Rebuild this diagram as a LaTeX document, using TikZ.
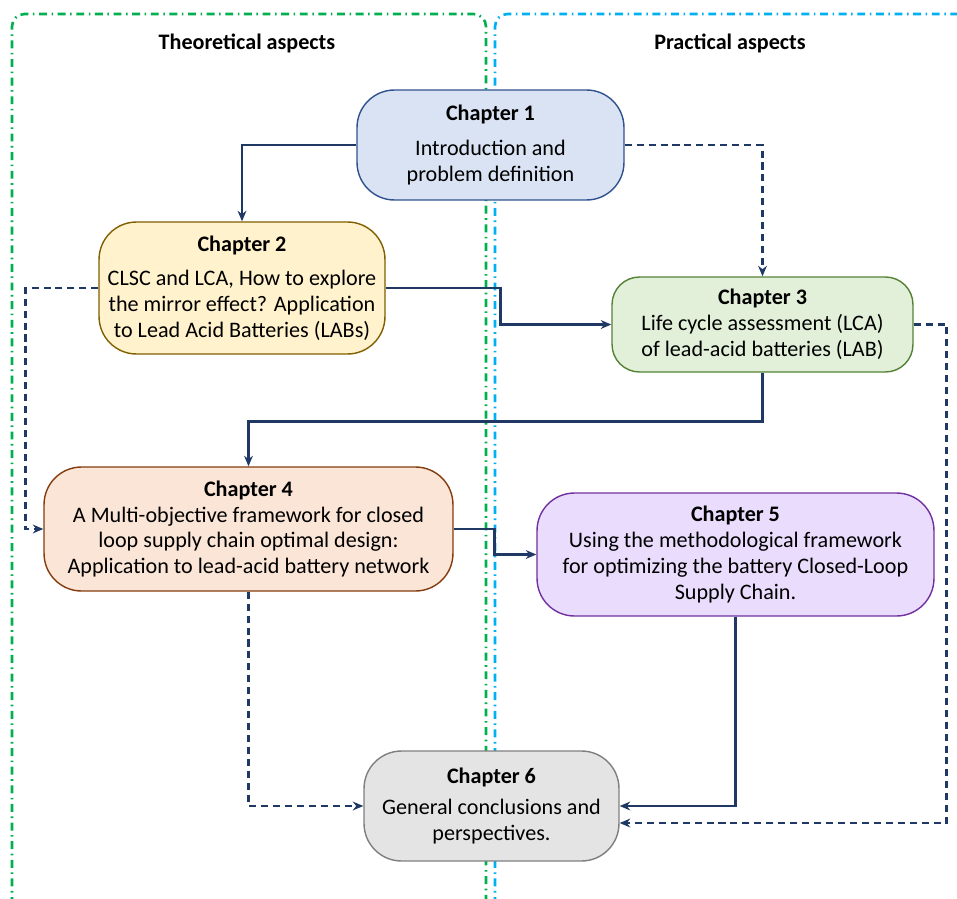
\documentclass[tikz,border=0pt]{standalone}
\usepackage{fontspec}
\setmainfont{Carlito}
\usetikzlibrary{arrows.meta}

\definecolor{navy}{HTML}{1F3864}
\definecolor{frameg}{HTML}{00B050}
\definecolor{frameb}{HTML}{00B0F0}
\definecolor{fillA}{HTML}{DAE3F3}\definecolor{lineA}{HTML}{2F528F}
\definecolor{fillB}{HTML}{FFF2CC}\definecolor{lineB}{HTML}{806000}
\definecolor{fillC}{HTML}{E2F0D9}\definecolor{lineC}{HTML}{548235}
\definecolor{fillD}{HTML}{FBE5D6}\definecolor{lineD}{HTML}{843C0C}
\definecolor{fillE}{HTML}{EADCFC}\definecolor{lineE}{HTML}{7030A0}
\definecolor{fillF}{HTML}{E4E4E4}\definecolor{lineF}{HTML}{7F7F7F}

\begin{document}
\begin{tikzpicture}[x=0.02cm,y=-0.02cm,
        chap/.style={draw,rounded corners=0.75cm,line width=0.8pt,align=center,inner sep=0pt,
            font=\fontsize{12.6}{14.7}\selectfont},
        link/.style={navy,line width=1.4pt,-{Stealth[length=6pt,width=5pt]}},
        dlink/.style={link,dash pattern=on 4pt off 2.8pt},
        frame/.style={line width=1.5pt,rounded corners=0.25cm,
            dash pattern=on 4.5pt off 2.6pt on 0.9pt off 2.6pt}]
        \useasboundingbox (0,0) rectangle (957,899);
        % the two columns
        \draw[frame,frameg] (12,905) -- (12,14) -- (486,14) -- (486,905);
        \draw[frame,frameb] (495,905) -- (495,14) -- (965,14);
        \node[font=\bfseries\fontsize{12.6}{14}\selectfont] (th) at (247,43) {Theoretical aspects};
        \node[font=\bfseries\fontsize{12.6}{14}\selectfont] (pr) at (730,43) {Practical aspects};
        % chapters
        \node[chap,fill=fillA,draw=lineA,minimum width=5.34cm,minimum height=2.2cm] (c1) at (490.5,145)
            {\textbf{Chapter 1}\\[5.5pt] Introduction and\\ problem definition};
        \node[chap,fill=fillB,draw=lineB,minimum width=5.72cm,minimum height=2.64cm] (c2) at (242,288)
            {\textbf{Chapter 2}\\[5pt] CLSC and LCA, How to explore\\ the mirror effect? Application\\ to Lead Acid Batteries (LABs)};
        \node[chap,rounded corners=0.55cm,fill=fillC,draw=lineC,minimum width=6.02cm,minimum height=1.9cm] (c3) at (762.5,324.5)
            {\textbf{Chapter 3}\\ Life cycle assessment (LCA)\\ of lead-acid batteries (LAB)};
        \node[chap,fill=fillD,draw=lineD,minimum width=8.18cm,minimum height=2.48cm] (c4) at (248.5,529)
            {\textbf{Chapter 4}\\ A Multi-objective framework for closed\\ loop supply chain optimal design:\\ Application to lead-acid battery network};
        \node[chap,fill=fillE,draw=lineE,minimum width=7.94cm,minimum height=2.46cm] (c5) at (735.5,554.5)
            {\textbf{Chapter 5}\\ Using the methodological framework\\ for optimizing the battery Closed-Loop\\ Supply Chain.};
        \node[chap,fill=fillF,draw=lineF,minimum width=5.1cm,minimum height=2.2cm] (c6) at (491.5,806)
            {\textbf{Chapter 6}\\[2.5pt] General conclusions and\\ perspectives.};
        % links
        \draw[link] (c1.west) -| (c2.north);
        \draw[dlink] (c1.east) -| (c3.north);
        \draw[link] (c2.east) -- ++(115,0) |- (c3.west);
        \draw[dlink] (c2.west) -- ++(-73,0) |- (c4.west);
        \draw[link] (c3.south) -- ++(0,49) -| (c4.north);
        \draw[dlink] (c3.east) -- ++(33,0) |- ([yshift=-0.34cm]c6.east);
        \draw[link] (c4.east) -- ++(41,0) |- (c5.west);
        \draw[dlink] (c4.south) |- (c6.west);
        \draw[link] (c5.south) |- (c6.east);
    \end{tikzpicture}
\end{document}
